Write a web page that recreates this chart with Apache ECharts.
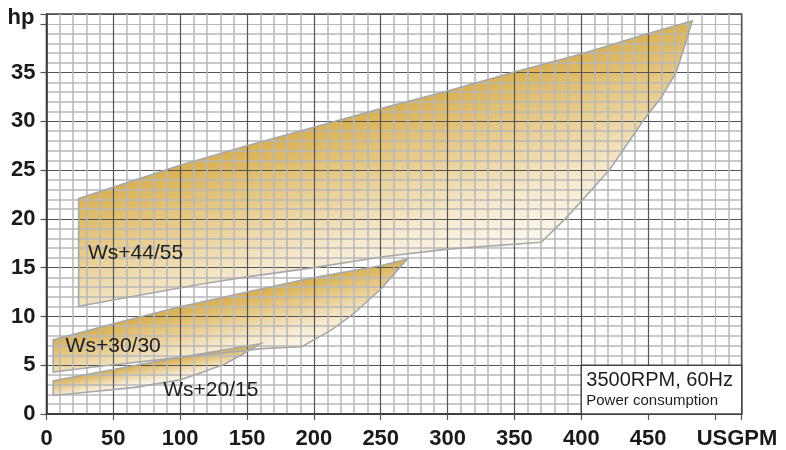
<!DOCTYPE html>
<html><head><meta charset="utf-8">
<script src="https://cdn.jsdelivr.net/npm/echarts@6/dist/echarts.min.js"></script>
<style>html,body{margin:0;padding:0;background:#fff}#c{width:786px;height:450px}</style>
</head><body><div id="c"></div>
<script>
// ---- data (USGPM, hp) ----
const xTickLabels = [0, 50, 100, 150, 200, 250, 300, 350, 400, 450];
const yTickLabels = [0, 5, 10, 15, 20, 25, 30, 35];
const seriesNames = ['Ws+44/55', 'Ws+30/30', 'Ws+20/15'];
const ws4455 = [
  [24, 22.1], [100, 25.5], [150, 27.5], [200, 29.4], [250, 31.3], [300, 33.1], [350, 35.05],
  [400, 36.9], [450, 39.0], [483, 40.3],
  [478, 38.0], [471, 35.0], [460, 32.5], [446, 30.0], [421, 25.0], [400, 21.8], [388, 20.0], [370, 17.6],
  [300, 16.9], [250, 16.1], [200, 15.0], [145, 13.95], [115, 13.3], [24, 11.05]
];
const ws3030 = [
  [5, 7.6], [50, 9.25], [100, 11.0], [150, 12.5], [200, 14.0], [250, 15.2], [270, 15.9],
  [250, 12.8], [229, 10.2], [214, 8.7], [191, 6.9],
  [161, 6.7], [100, 5.8], [40, 4.9], [5, 4.3]
];
const ws2015 = [
  [5, 3.4], [40, 4.3], [85, 5.45], [160, 7.2],
  [145, 6.0], [133, 5.1], [115, 4.2], [100, 3.5], [65, 2.7], [5, 1.9]
];
const noteLines = ['3500RPM, 60Hz', 'Power consumption'];
const noteRange = [[400, 5, 520, 0]];

// ---- layout / style ----
const FONT = "'Liberation Sans', Arial, Helvetica, sans-serif";
const labelAnchors = { 'Ws+44/55': [31, 16.45], 'Ws+30/30': [14.3, 6.9], 'Ws+20/15': [87.3, 2.4] };
const DARK = '#555555', LIGHT = '#b8b8b8';

function regionFill(name, pts, order) {
  return {
    type: 'custom', name: name, coordinateSystem: 'cartesian2d', silent: true, z: 1 + order * 0.01,
    data: pts, encode: { x: 0, y: 1 },
    renderItem: function (params, api) {
      if (params.dataIndex !== 0) return null;
      const P = pts.map(p => api.coord(p));
      let tipIdx = 0;
      pts.forEach((p, i) => { if (p[1] > pts[tipIdx][1]) tipIdx = i; });
      const A = P[0], B = P[tipIdx];
      const dx = B[0] - A[0], dy = B[1] - A[1], L = Math.hypot(dx, dy);
      const nx = -dy / L, ny = dx / L;
      let D = 1;
      P.forEach(q => { const d = (q[0] - A[0]) * nx + (q[1] - A[1]) * ny; if (d > D) D = d; });
      const sx = (A[0] + B[0]) / 2, sy = (A[1] + B[1]) / 2;
      const grad = new echarts.graphic.LinearGradient(sx, sy, sx + nx * D, sy + ny * D, [
        { offset: 0, color: '#dab256' },
        { offset: 0.35, color: '#e9ce93' },
        { offset: 0.7, color: '#f6e9cf' },
        { offset: 1, color: '#fdf8ee' }
      ], true);
      return { type: 'polygon', shape: { points: P }, style: { fill: grad } };
    }
  };
}
function regionOutline(name, pts, order) {
  return {
    type: 'custom', name: name, coordinateSystem: 'cartesian2d', silent: true, z: 4 + order * 0.01,
    data: pts, encode: { x: 0, y: 1 },
    renderItem: function (params, api) {
      if (params.dataIndex !== 0) return null;
      const P = pts.map(p => api.coord(p));
      const la = api.coord(labelAnchors[name]);
      return {
        type: 'group',
        children: [
          { type: 'polygon', shape: { points: P }, style: { fill: 'none', stroke: '#a8a8a8', lineWidth: 1.6 } },
          { type: 'text', x: la[0], y: la[1], style: { text: name, fill: '#1e1e1e', font: '21px ' + FONT, textAlign: 'left', textVerticalAlign: 'middle' } }
        ]
      };
    }
  };
}

const chart = echarts.init(document.getElementById('c'), null, { renderer: 'canvas' });
chart.setOption({
  animation: false,
  backgroundColor: '#fff',
  grid: { left: 46.5, right: 44.3, top: 14, bottom: 35, show: true, borderColor: '#444', borderWidth: 1.5, backgroundColor: 'transparent', z: 3 },
  xAxis: {
    type: 'value', min: 0, max: 520, interval: 50, z: 3,
    name: 'USGPM', nameLocation: 'end', nameGap: -45,
    nameTextStyle: { fontFamily: FONT, fontSize: 22, fontWeight: 'bold', color: '#1a1a1a', verticalAlign: 'top', padding: [14, 0, 0, 0] },
    axisLine: { show: true, lineStyle: { color: '#333', width: 1.5 } },
    axisTick: { show: true, length: 6, lineStyle: { color: '#555', width: 1.2 } },
    axisLabel: { formatter: v => xTickLabels.includes(v) ? String(v) : '', fontFamily: FONT, fontSize: 22, fontWeight: 'bold', color: '#1a1a1a', margin: 14 },
    splitLine: { show: true, lineStyle: { color: [DARK, DARK, DARK, DARK, DARK, DARK, DARK, DARK, DARK, DARK, LIGHT], width: 1.2 } },
    minorTick: { show: false, splitNumber: 5 },
    minorSplitLine: { show: true, lineStyle: { color: LIGHT, width: 1.5 } }
  },
  yAxis: {
    type: 'value', min: 0, max: 41, interval: 5, z: 3,
    name: 'hp', nameLocation: 'end', nameGap: -4,
    nameTextStyle: { fontFamily: FONT, fontSize: 22, fontWeight: 'bold', color: '#1a1a1a', align: 'right', verticalAlign: 'middle', padding: [0, 12, 0, 0] },
    axisLine: { show: true, lineStyle: { color: '#333', width: 1.5 } },
    axisTick: { show: true, length: 6, lineStyle: { color: '#555', width: 1.2 } },
    axisLabel: { formatter: v => yTickLabels.includes(v) ? String(v) : '', fontFamily: FONT, fontSize: 22, fontWeight: 'bold', color: '#1a1a1a', margin: 11 },
    splitLine: { show: true, lineStyle: { color: [DARK, DARK, DARK, DARK, DARK, DARK, DARK, DARK, LIGHT], width: 1.2 } },
    minorTick: { show: false, splitNumber: 5 },
    minorSplitLine: { show: true, lineStyle: { color: LIGHT, width: 1.5 } }
  },
  series: [
    regionFill(seriesNames[0], ws4455, 0),
    regionFill(seriesNames[1], ws3030, 1),
    regionFill(seriesNames[2], ws2015, 2),
    regionOutline(seriesNames[0], ws4455, 0),
    regionOutline(seriesNames[1], ws3030, 1),
    regionOutline(seriesNames[2], ws2015, 2),
    {
      type: 'custom', name: 'note', coordinateSystem: 'cartesian2d', silent: true, z: 6,
      data: noteRange, encode: { x: [0, 2], y: [1, 3] },
      renderItem: function (params, api) {
        const p0 = api.coord([api.value(0), api.value(1)]);
        const p1 = api.coord([api.value(2), api.value(3)]);
        return {
          type: 'group',
          children: [
            { type: 'rect', shape: { x: p0[0], y: p0[1], width: p1[0] - p0[0], height: p1[1] - p0[1] }, style: { fill: '#fff', stroke: '#444', lineWidth: 1.4 } },
            { type: 'text', x: p0[0] + 5, y: p0[1] + 15, style: { text: noteLines[0], fill: '#1e1e1e', font: '20px ' + FONT, textVerticalAlign: 'middle' } },
            { type: 'text', x: p0[0] + 5, y: p0[1] + 36, style: { text: noteLines[1], fill: '#1e1e1e', font: '15px ' + FONT, textVerticalAlign: 'middle' } }
          ]
        };
      }
    }
  ]
});
</script>
</body></html>
